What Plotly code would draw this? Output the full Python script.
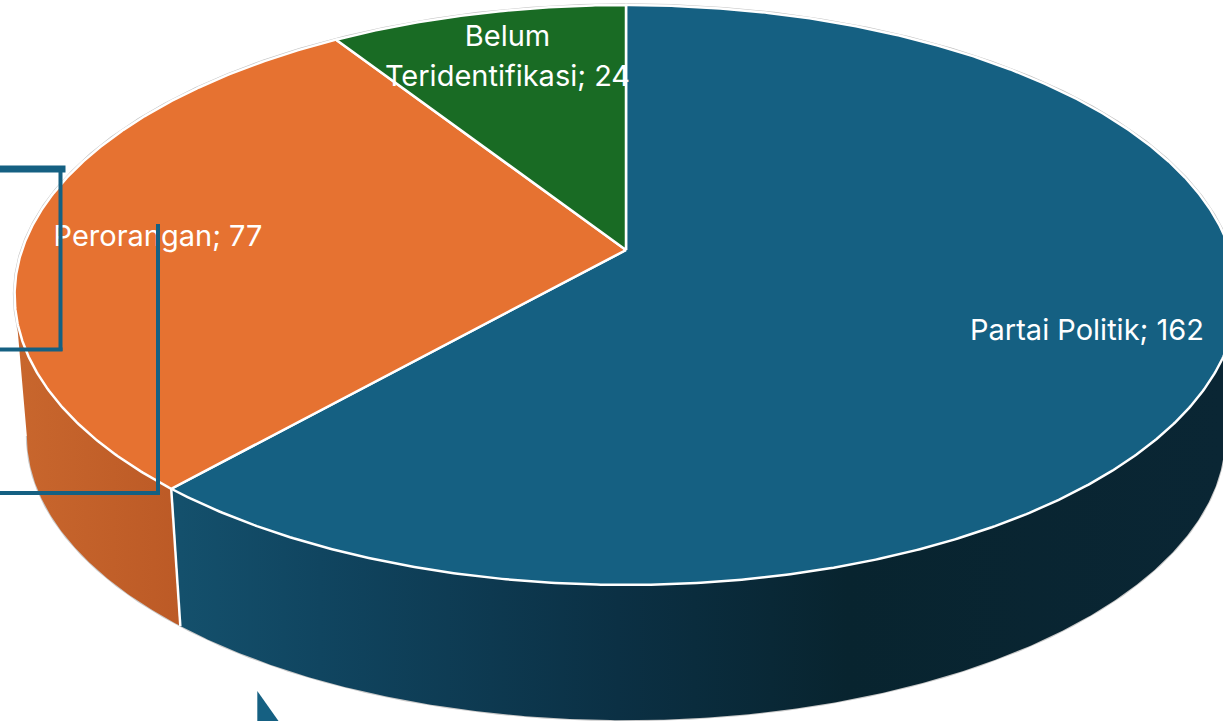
import numpy as np
import plotly.graph_objects as go

categories = ["Partai Politik", "Perorangan", "Belum Teridentifikasi"]
values = [162, 77, 24]
top_colors = ["#156082", "#E67231", "#196B24"]

W, H = 1223, 721
APEX_X, APEX_Y = 626, 250
RX, RY, K = 604, 283, 0.155
LOW_S, LOW_Y = 0.98, 392
TANGENT = np.degrees(np.arcsin(K))

total = sum(values)
ends = np.cumsum(values) / total * 360
starts = np.r_[0, ends[:-1]]


def rim(deg, scale=1.0, cy=APEX_Y):
    t = np.radians(deg)
    u, v = np.sin(t), np.cos(t)
    w = 1 + K * v
    return APEX_X + scale * RX * u / w, cy - scale * RY * v / w


def arc(a, b, scale=1.0, cy=APEX_Y):
    return rim(np.linspace(a, b, max(int(abs(b - a) * 3), 4)), scale, cy)


fig = go.Figure()


def wall(a, b, stops, x0, x1):
    xt, yt = arc(a, b)
    xl, yl = arc(b, a, LOW_S, LOW_Y)
    fig.add_trace(go.Scatter(
        x=np.r_[xt, xl], y=np.r_[yt, yl], mode="lines", fill="toself",
        line=dict(width=0), hoverinfo="skip",
        fillgradient=dict(type="horizontal", colorscale=stops, start=x0, stop=x1),
    ))


# faint silhouette below the white rim
xo, yo = arc(90 + TANGENT, 270 - TANGENT, LOW_S, LOW_Y)
fig.add_trace(go.Scatter(x=xo, y=yo, mode="lines", line=dict(color="#c9c9c9", width=2), hoverinfo="skip"))
xo, yo = arc(0, 360)
fig.add_trace(go.Scatter(x=xo, y=yo, mode="lines", line=dict(color="#c4c4c4", width=3.5), hoverinfo="skip"))

wall(90 + TANGENT, ends[0],
     [[0, "#0a2634"], [0.36, "#08242f"], [0.58, "#0b3044"], [0.865, "#104560"], [1, "#14506c"]],
     1223, 180)
wall(ends[0], 270 - TANGENT,
     [[0, "#bc5a26"], [1, "#c8662d"]], 180, 20)

# divider on the wall
xa, ya = rim(ends[0])
xb, yb = rim(ends[0], LOW_S, LOW_Y)
fig.add_trace(go.Scatter(x=[xa, xb], y=[ya, yb], mode="lines", line=dict(color="white", width=2.5), hoverinfo="skip"))

# top face
for s, e, c in zip(starts, ends, top_colors):
    xr, yr = arc(s, e)
    fig.add_trace(go.Scatter(
        x=np.r_[APEX_X, xr, APEX_X], y=np.r_[APEX_Y, yr, APEX_Y], mode="lines", fill="toself",
        fillcolor=c, line=dict(color="white", width=2.5), hoverinfo="skip",
    ))

# labels
labels = [f"{c}; {v}" for c, v in zip(categories, values)]
fig.add_trace(go.Scatter(
    x=[1087, 158, 507.5, 507.5], y=[333, 239, 39, 79],
    text=[labels[0], labels[1], "Belum", "Teridentifikasi; 24"],
    mode="text", textposition="middle center", hoverinfo="skip",
    textfont=dict(family="Inter", size=29, color="white"),
))

BLUE = "#156082"
shapes = [
    dict(type="line", x0=0, x1=65.5, y0=169, y1=169, line=dict(color=BLUE, width=7)),
    dict(type="line", x0=60.5, x1=60.5, y0=170, y1=351, line=dict(color=BLUE, width=4)),
    dict(type="line", x0=0, x1=62.5, y0=349.5, y1=349.5, line=dict(color=BLUE, width=4)),
    dict(type="line", x0=158, x1=158, y0=224, y1=495, line=dict(color=BLUE, width=4)),
    dict(type="line", x0=0, x1=160, y0=493, y1=493, line=dict(color=BLUE, width=4)),
    dict(type="path", path="M 257.3 691 L 278.5 721 L 257.3 721 Z", fillcolor=BLUE, line=dict(width=0)),
]
for sh in shapes:
    sh["layer"] = "above"

fig.update_layout(
    width=W, height=H, margin=dict(l=0, r=0, t=0, b=0), showlegend=False,
    paper_bgcolor="white", plot_bgcolor="white", shapes=shapes,
    xaxis=dict(range=[0, W], visible=False, fixedrange=True),
    yaxis=dict(range=[H, 0], visible=False, fixedrange=True),
)
fig.write_html(
    "out.html",
    config=dict(displayModeBar=False),
    post_script="document.body.style.margin='0';document.body.style.overflow='hidden';",
)
